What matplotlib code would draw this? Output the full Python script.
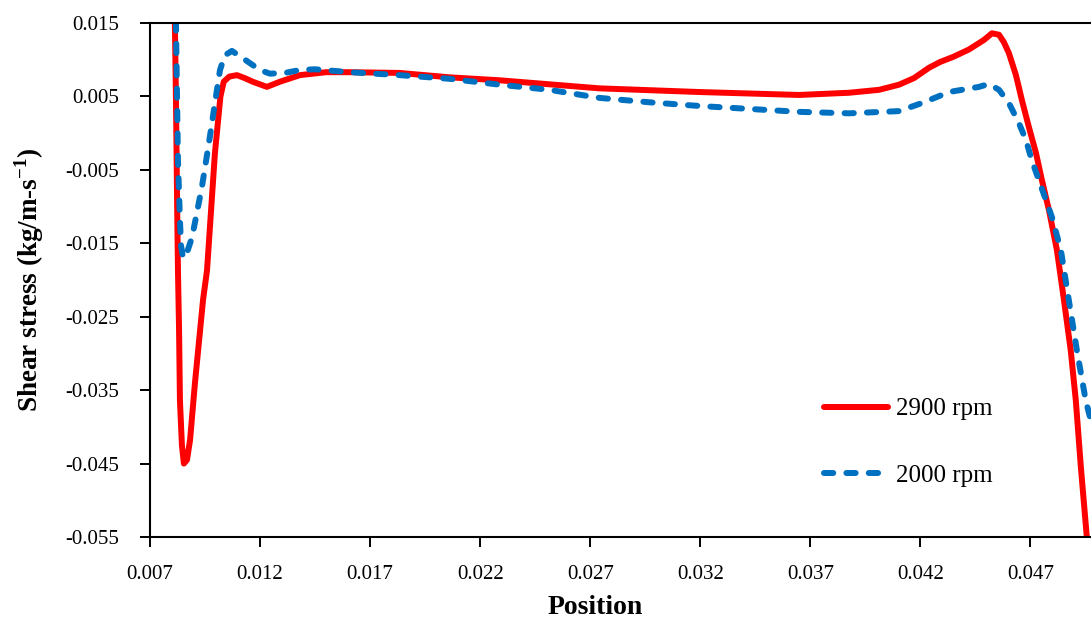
import matplotlib
matplotlib.use("Agg")
from matplotlib import pyplot as plt
import numpy as np

plt.rcParams['font.family'] = ['Liberation Serif', 'DejaVu Serif']
plt.rcParams['mathtext.fontset'] = 'custom'
plt.rcParams['mathtext.rm'] = 'Liberation Serif'
plt.rcParams['mathtext.bf'] = 'Liberation Serif:bold'

# wall shear stress along the position, 2900 rpm
pos_2900 = [0.00800, 0.00813, 0.00818, 0.00823, 0.00827, 0.00832, 0.00836, 0.00845,
            0.00854, 0.00868, 0.00882, 0.00904, 0.00941, 0.00959, 0.00995, 0.01020,
            0.01035, 0.01060, 0.01095, 0.01130, 0.01167, 0.01231, 0.01290, 0.01381,
            0.01500, 0.01607, 0.01834, 0.02061, 0.02288, 0.02742, 0.03196, 0.03649,
            0.03876, 0.04012, 0.04103, 0.04171, 0.04239, 0.04290, 0.04350, 0.04421,
            0.04489, 0.04525, 0.04557, 0.04579, 0.04602, 0.04634, 0.04661, 0.04693,
            0.04725, 0.04752, 0.04784, 0.04820, 0.04852, 0.04883, 0.04906, 0.04929,
            0.04956, 0.04970]
ss_2900 = [0.0195, 0.0150, 0.0045, -0.0091, -0.0187, -0.0268, -0.0364, -0.0425,
           -0.0450, -0.0445, -0.0418, -0.0341, -0.0227, -0.0187, -0.0027, 0.0050,
           0.0070, 0.0077, 0.0079, 0.0075, 0.0070, 0.0063, 0.0070, 0.0079,
           0.0083, 0.0083, 0.0082, 0.0076, 0.0072, 0.0061, 0.0056, 0.0052,
           0.0055, 0.0059, 0.0066, 0.0075, 0.0089, 0.0097, 0.0104, 0.0114,
           0.0127, 0.0136, 0.0134, 0.0124, 0.0109, 0.0079, 0.0045, 0.0008,
           -0.0027, -0.0064, -0.0105, -0.0159, -0.0227, -0.0296, -0.0364, -0.0455,
           -0.0550, -0.0609]

# wall shear stress along the position, 2000 rpm
pos_2000 = [0.00813, 0.00818, 0.00823, 0.00827, 0.00836, 0.00841, 0.00850, 0.00863,
            0.00891, 0.00936, 0.00972, 0.00995, 0.01018, 0.01040, 0.01072, 0.01122,
            0.01199, 0.01245, 0.01313, 0.01381, 0.01449, 0.01607, 0.01834, 0.02061,
            0.02288, 0.02515, 0.02742, 0.02969, 0.03196, 0.03422, 0.03649, 0.03876,
            0.04103, 0.04216, 0.04330, 0.04466, 0.04511, 0.04557, 0.04602, 0.04647,
            0.04679, 0.04706, 0.04738, 0.04770, 0.04797, 0.04838, 0.04874, 0.04911,
            0.04951, 0.04974]
ss_2000 = [0.0195, 0.0150, 0.0045, -0.0037, -0.0118, -0.0153, -0.0170, -0.0167,
           -0.0142, -0.0073, -0.0005, 0.0041, 0.0086, 0.0106, 0.0112, 0.0102,
           0.0086, 0.0081, 0.0082, 0.0086, 0.0087, 0.0083, 0.0079, 0.0074,
           0.0066, 0.0059, 0.0048, 0.0042, 0.0037, 0.0033, 0.0029, 0.0027,
           0.0030, 0.0042, 0.0056, 0.0063, 0.0067, 0.0059, 0.0041, 0.0014,
           -0.0009, -0.0037, -0.0064, -0.0091, -0.0114, -0.0159, -0.0227, -0.0296,
           -0.0364, -0.0391]

x_ticks = [0.007, 0.012, 0.017, 0.022, 0.027, 0.032, 0.037, 0.042, 0.047]
y_ticks = [-0.055, -0.045, -0.035, -0.025, -0.015, -0.005, 0.005, 0.015]

fig = plt.figure(figsize=(10.91, 6.24), dpi=100)
ax = fig.add_axes([150/1091, 87/624, 941/1091, 514/624])

ax.plot(pos_2900, ss_2900, color='#FF0000', lw=4.3, solid_capstyle='round',
        solid_joinstyle='round', label='2900 rpm')
ax.plot(pos_2000, ss_2000, color='#0070C0', lw=4.3, linestyle=(0, (1.55, 2.2)),
        dash_capstyle='round', dash_joinstyle='round', label='2000 rpm')

ax.set_xlim(0.007, 0.04975)
ax.set_ylim(-0.055, 0.015)
ax.set_xticks(x_ticks)
ax.set_yticks(y_ticks)
ax.set_xticklabels([f"{v:.3f}" for v in x_ticks])
ax.set_yticklabels([f"{v:.3f}" for v in y_ticks])
ax.tick_params(axis='both', direction='out', length=7, width=1.4, labelsize=15)
ax.tick_params(axis='x', pad=13)
ax.tick_params(axis='y', pad=15)

for side in ('left', 'bottom', 'top'):
    ax.spines[side].set_linewidth(1.5)
ax.spines['right'].set_visible(False)

ax.set_xlabel('Position', fontsize=20, fontweight='bold')
ax.set_ylabel(r'Shear stress (kg/m-s$^{\mathbf{-1}}$)', fontsize=19.5, fontweight='bold')
ax.xaxis.set_label_coords(0.473, -0.112)
ax.yaxis.set_label_coords(-0.11, 0.5)

ax.legend(loc='upper left', bbox_to_anchor=(824/1091, 1 - 398/624),
          bbox_transform=fig.transFigure, frameon=False, fontsize=18,
          handlelength=2.55, handletextpad=0.35, labelspacing=1.75,
          borderpad=0, borderaxespad=0)

fig.savefig('out.png', dpi=100)
